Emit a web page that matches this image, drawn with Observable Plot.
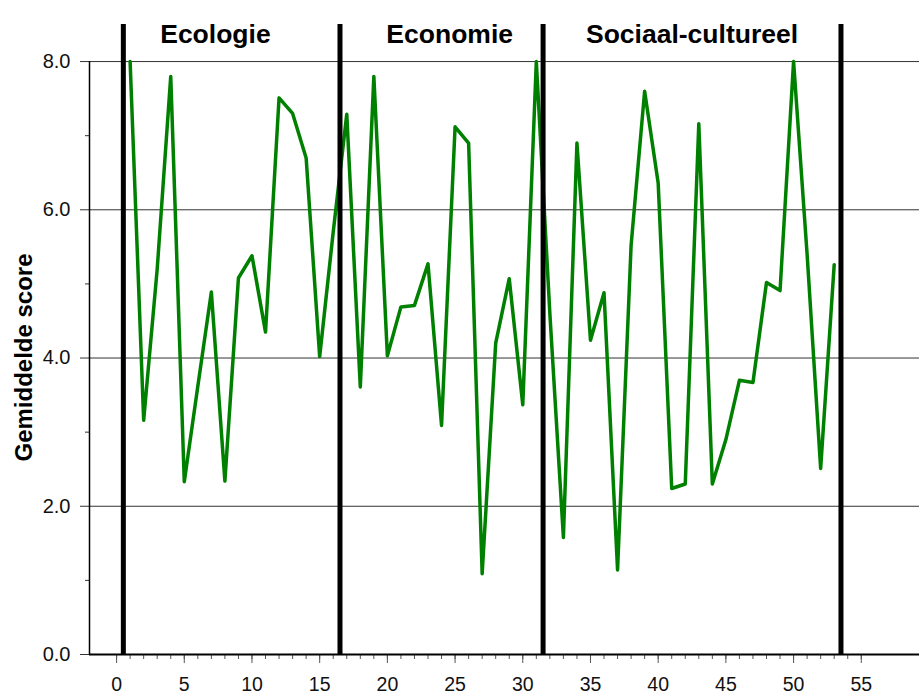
<!DOCTYPE html>
<html>
<head>
<meta charset="utf-8">
<script src="https://cdn.jsdelivr.net/npm/d3@7"></script>
<script src="https://cdn.jsdelivr.net/npm/@observablehq/plot@0.6"></script>
<style>
  html, body { margin: 0; padding: 0; background: #fff; }
</style>
</head>
<body>
<div id="chart"></div>
<script>
// Item numbers (1..53) and their mean scores
const items = d3.range(1, 54);
const scores = [8.0, 3.16, 5.2, 7.8, 2.33, 3.62, 4.89, 2.34, 5.08, 5.38, 4.35, 7.51, 7.30, 6.70, 4.02, 5.7,
                7.29, 3.61, 7.80, 4.03, 4.69, 4.71, 5.27, 3.09, 7.12, 6.90, 1.09, 4.20, 5.07, 3.37, 8.0,
                4.6, 1.58, 6.90, 4.24, 4.88, 1.14, 5.52, 7.60, 6.36, 2.24, 2.30, 7.16, 2.30, 2.90, 3.70, 3.67,
                5.02, 4.91, 8.0, 5.4, 2.51, 5.26];
// Section boundaries and section names
const boundaries = [0.5, 16.5, 31.5, 53.5];
const sectionNames = ["Ecologie", "Economie", "Sociaal-cultureel"];
const sectionCenters = [7.3, 24.6, 42.5];
// Tick values
const xMajorTicks = [0, 5, 10, 15, 20, 25, 30, 35, 40, 45, 50, 55];
const xMinorTicks = d3.range(0, 56);
const yMajorTicks = [0, 2, 4, 6, 8];
const yMinorTicks = [1, 3, 5, 7];
const gridValues = [2, 4, 6, 8];

const data = items.map((x, i) => ({x, y: scores[i]}));
const sections = sectionNames.map((name, i) => ({name, x: sectionCenters[i]}));

const chart = Plot.plot({
  width: 919,
  height: 697,
  marginLeft: 89,
  marginRight: 0,
  marginTop: 24,
  marginBottom: 43,
  x: {domain: [-2, 59.3]},
  y: {domain: [0, 8.5]},
  style: {fontFamily: "'Liberation Sans', Arial, sans-serif", fontSize: "20px", background: "white", color: "#111"},
  marks: [
    Plot.ruleY(gridValues, {stroke: "#333", strokeWidth: 1}),
    Plot.axisX(xMinorTicks, {tickSize: 5, tickFormat: () => "", stroke: "#555", label: null}),
    Plot.axisX(xMajorTicks, {tickSize: 9, tickPadding: 14, stroke: "#555", fontSize: 19.5, label: null}),
    Plot.axisY(yMinorTicks, {tickSize: 4, tickFormat: () => "", stroke: "#333", label: null}),
    Plot.axisY(yMajorTicks, {tickSize: 9, tickPadding: 10, stroke: "#333", fontSize: 20, tickFormat: d3.format(".1f"), label: null}),
    Plot.ruleX([d3.min(xMajorTicks) - 2], {y1: d3.min(yMajorTicks), y2: d3.max(yMajorTicks), stroke: "black", strokeWidth: 1.5}),
    Plot.ruleY([0], {stroke: "black", strokeWidth: 2}),
    Plot.line(data, {x: "x", y: "y", stroke: "#008000", strokeWidth: 3.5}),
    Plot.ruleX(boundaries, {stroke: "black", strokeWidth: 5}),
    Plot.text(sections, {x: "x", text: "name", frameAnchor: "top", fontSize: 26.5, fontWeight: "bold", fill: "black"}),
    Plot.text(["Gemiddelde score"], {frameAnchor: "left", textAnchor: "middle", rotate: -90, dx: -65, dy: 18, fontSize: 24, fontWeight: "bold", fill: "black"})
  ]
});
document.getElementById("chart").appendChild(chart);
</script>
</body>
</html>
